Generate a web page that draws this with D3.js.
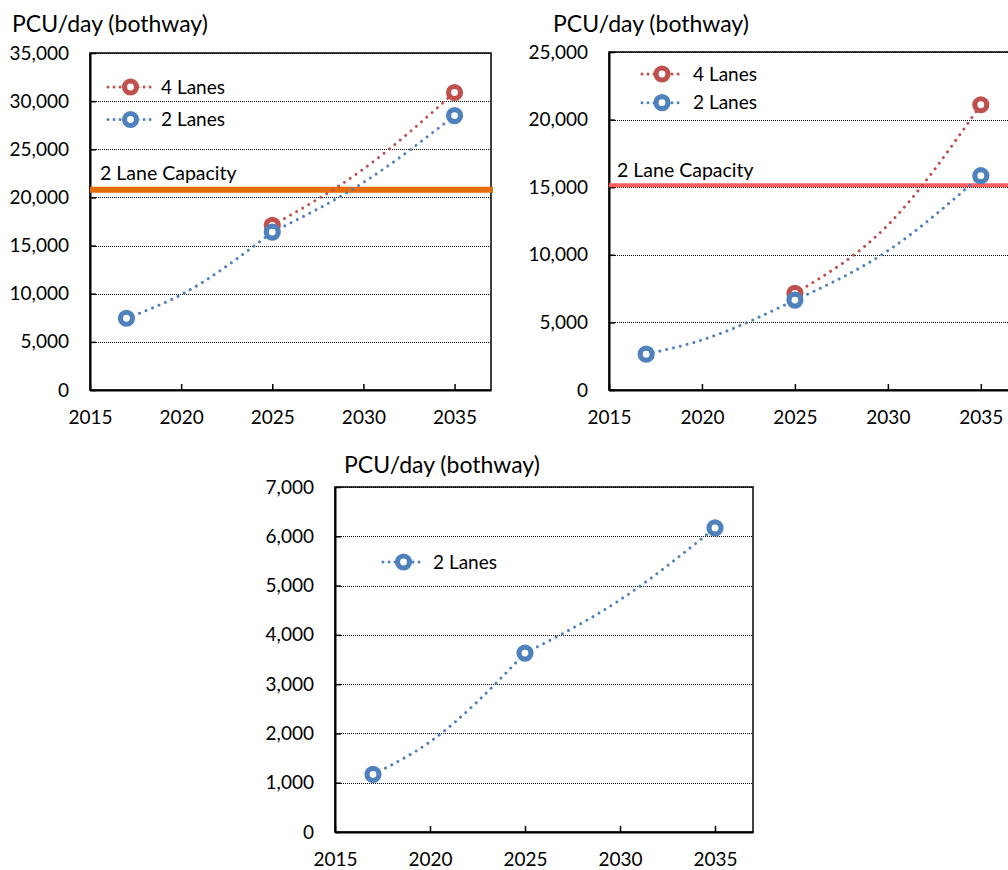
<!DOCTYPE html>
<html>
<head>
<meta charset="utf-8">
<script src="https://cdn.jsdelivr.net/npm/d3@7"></script>
<style>
  body { margin: 0; background: #fff; }
  svg { display: block; }
</style>
</head>
<body>
<div id="chart"></div>
<script>
// ---- data ----
const years = [2017, 2025, 2035];                    // marked points
const lineYears = [2017, 2020, 2025, 2030, 2035];    // where the dotted lines were read
const xTicks = [2015, 2020, 2025, 2030, 2035];
const capacityLabel = "2 Lane Capacity";
const titleText = "PCU/day (bothway)";

// top-left chart
const lanes4A = [null, 17100, 30900];
const lanes2A = [7450, 16400, 28500];
const lanes4LineA = [null, null, 17100, 22950, 30900];
const lanes2LineA = [7450, 9900, 16400, 21550, 28500];
const capacityA = 20800;
const yTicksA = [0, 5000, 10000, 15000, 20000, 25000, 30000, 35000];

// top-right chart
const lanes4B = [null, 7150, 21100];
const lanes2B = [2650, 6650, 15850];
const lanes4LineB = [null, null, 7150, 12200, 21100];
const lanes2LineB = [2650, 3700, 6650, 10300, 15850];
const capacityB = 15150;
const yTicksB = [0, 5000, 10000, 15000, 20000, 25000];

// bottom chart
const lanes2C = [1170, 3630, 6170];
const lanes2LineC = [1170, 1830, 3630, 4710, 6170];
const yTicksC = [0, 1000, 2000, 3000, 4000, 5000, 6000, 7000];

const red = "#C0504D";
const blue = "#4F81BD";

const svg = d3.select("#chart")
    .append("svg")
    .attr("width", 1008)
    .attr("height", 870)
    .style("font-family", "Lato, 'Noto Sans', sans-serif");

const charts = [
    {
        left: 90, right: 491, top: 53, bottom: 390,
        yTicks: yTicksA, titleX: 12, titleY: 32,
        series: [
            { name: "4 Lanes", values: lanes4A, line: lanes4LineA, color: red },
            { name: "2 Lanes", values: lanes2A, line: lanes2LineA, color: blue }
        ],
        legend: { x1: 108, x2: 153, y: 87, gap: 32.5, textX: 161 },
        capacity: capacityA, capColor: "#E46C0A", capWidth: 6, capLabelX: 100, capLabelY: 180
    },
    {
        left: 609, right: 1018, top: 52, bottom: 390,
        yTicks: yTicksB, titleX: 553, titleY: 32,
        series: [
            { name: "4 Lanes", values: lanes4B, line: lanes4LineB, color: red },
            { name: "2 Lanes", values: lanes2B, line: lanes2LineB, color: blue }
        ],
        legend: { x1: 642, x2: 682, y: 74, gap: 28.7, textX: 693 },
        capacity: capacityB, capColor: "#FF5F5F", capWidth: 4, capLabelX: 617, capLabelY: 177
    },
    {
        left: 335, right: 753, top: 487, bottom: 832,
        yTicks: yTicksC, titleX: 344, titleY: 473,
        series: [
            { name: "2 Lanes", values: lanes2C, line: lanes2LineC, color: blue }
        ],
        legend: { x1: 383, x2: 424, y: 562, gap: 0, textX: 433 }
    }
];

function drawChart(cfg) {
    const x = d3.scaleLinear().domain([2015, 2037]).range([cfg.left, cfg.right]);
    const y = d3.scaleLinear().domain([0, d3.max(cfg.yTicks)]).range([cfg.bottom, cfg.top]);

    const g = svg.append("g");

    // dotted gridlines
    g.selectAll(".grid")
        .data(cfg.yTicks.filter(d => d > 0))
        .enter()
        .append("line")
        .attr("x1", cfg.left)
        .attr("x2", cfg.right)
        .attr("y1", d => Math.round(y(d)) + 0.5)
        .attr("y2", d => Math.round(y(d)) + 0.5)
        .attr("stroke", "#000")
        .attr("stroke-width", 1)
        .attr("stroke-dasharray", "1,1");

    // plot frame
    g.append("rect")
        .attr("x", cfg.left)
        .attr("y", cfg.top)
        .attr("width", cfg.right - cfg.left)
        .attr("height", cfg.bottom - cfg.top)
        .attr("fill", "none")
        .attr("stroke", "#000")
        .attr("stroke-width", 1.5);

    // x axis
    const xAxis = g.append("g")
        .attr("transform", `translate(0,${cfg.bottom})`)
        .call(d3.axisBottom(x).tickValues(xTicks).tickFormat(d3.format("d"))
            .tickSize(-6).tickSizeOuter(0).tickPadding(21));

    // y axis
    const yAxis = g.append("g")
        .attr("transform", `translate(${cfg.left},0)`)
        .call(d3.axisLeft(y).tickValues(cfg.yTicks).tickFormat(d3.format(","))
            .tickSize(-6).tickSizeOuter(0).tickPadding(21));

    [xAxis, yAxis].forEach(ax => {
        ax.attr("font-family", null).attr("font-size", null);
        ax.select(".domain").attr("stroke", "#000").attr("stroke-width", 2);
        ax.selectAll(".tick line").attr("stroke", "#000").attr("stroke-width", 1.5);
        ax.selectAll(".tick text").attr("fill", "#000").style("font-size", "19px");
    });

    // capacity line
    if (cfg.capacity) {
        g.append("line")
            .attr("x1", cfg.left)
            .attr("x2", cfg.right + 2)
            .attr("y1", y(cfg.capacity))
            .attr("y2", y(cfg.capacity))
            .attr("stroke", cfg.capColor)
            .attr("stroke-width", cfg.capWidth);

        g.append("text")
            .attr("x", cfg.capLabelX)
            .attr("y", cfg.capLabelY)
            .style("font-size", "19.5px")
            .attr("fill", "#000")
            .text(capacityLabel);
    }

    const line = d3.line()
        .defined(d => d.v != null)
        .x(d => x(d.year))
        .y(d => y(d.v))
        .curve(d3.curveMonotoneX);

    // series: dotted line (each leg between marked years drawn on its own) + ring markers
    cfg.series.forEach(s => {
        const pts = s.line.map((v, i) => ({ year: lineYears[i], v: v }));
        [pts.slice(0, 3), pts.slice(2, 5)].forEach(leg => {
            if (leg.filter(d => d.v != null).length < 2) return;
            g.append("path")
                .datum(leg)
                .attr("d", line)
                .attr("fill", "none")
                .attr("stroke", s.color)
                .attr("stroke-width", 3)
                .attr("stroke-linecap", "round")
                .attr("stroke-dasharray", "0.01,7");
        });

        g.selectAll(null)
            .data(s.values.map((v, i) => ({ year: years[i], v: v })).filter(d => d.v != null))
            .enter()
            .append("circle")
            .attr("cx", d => x(d.year))
            .attr("cy", d => y(d.v))
            .attr("r", 6)
            .attr("fill", "#fff")
            .attr("stroke", s.color)
            .attr("stroke-width", 5.2);
    });

    // legend
    const lg = cfg.legend;
    cfg.series.forEach((s, i) => {
        const ly = lg.y + i * lg.gap;
        g.append("line")
            .attr("x1", lg.x1)
            .attr("x2", lg.x2)
            .attr("y1", ly)
            .attr("y2", ly)
            .attr("stroke", s.color)
            .attr("stroke-width", 3)
            .attr("stroke-linecap", "round")
            .attr("stroke-dasharray", "0.01,6");
        g.append("circle")
            .attr("cx", (lg.x1 + lg.x2) / 2)
            .attr("cy", ly)
            .attr("r", 6)
            .attr("fill", "#fff")
            .attr("stroke", s.color)
            .attr("stroke-width", 5.2);
        g.append("text")
            .attr("x", lg.textX)
            .attr("y", ly)
            .attr("dy", "0.35em")
            .style("font-size", "19px")
            .attr("fill", "#000")
            .text(s.name);
    });

    // title
    g.append("text")
        .attr("x", cfg.titleX)
        .attr("y", cfg.titleY)
        .style("font-size", "23px")
        .attr("fill", "#000")
        .text(titleText);
}

charts.forEach(drawChart);
</script>
</body>
</html>
